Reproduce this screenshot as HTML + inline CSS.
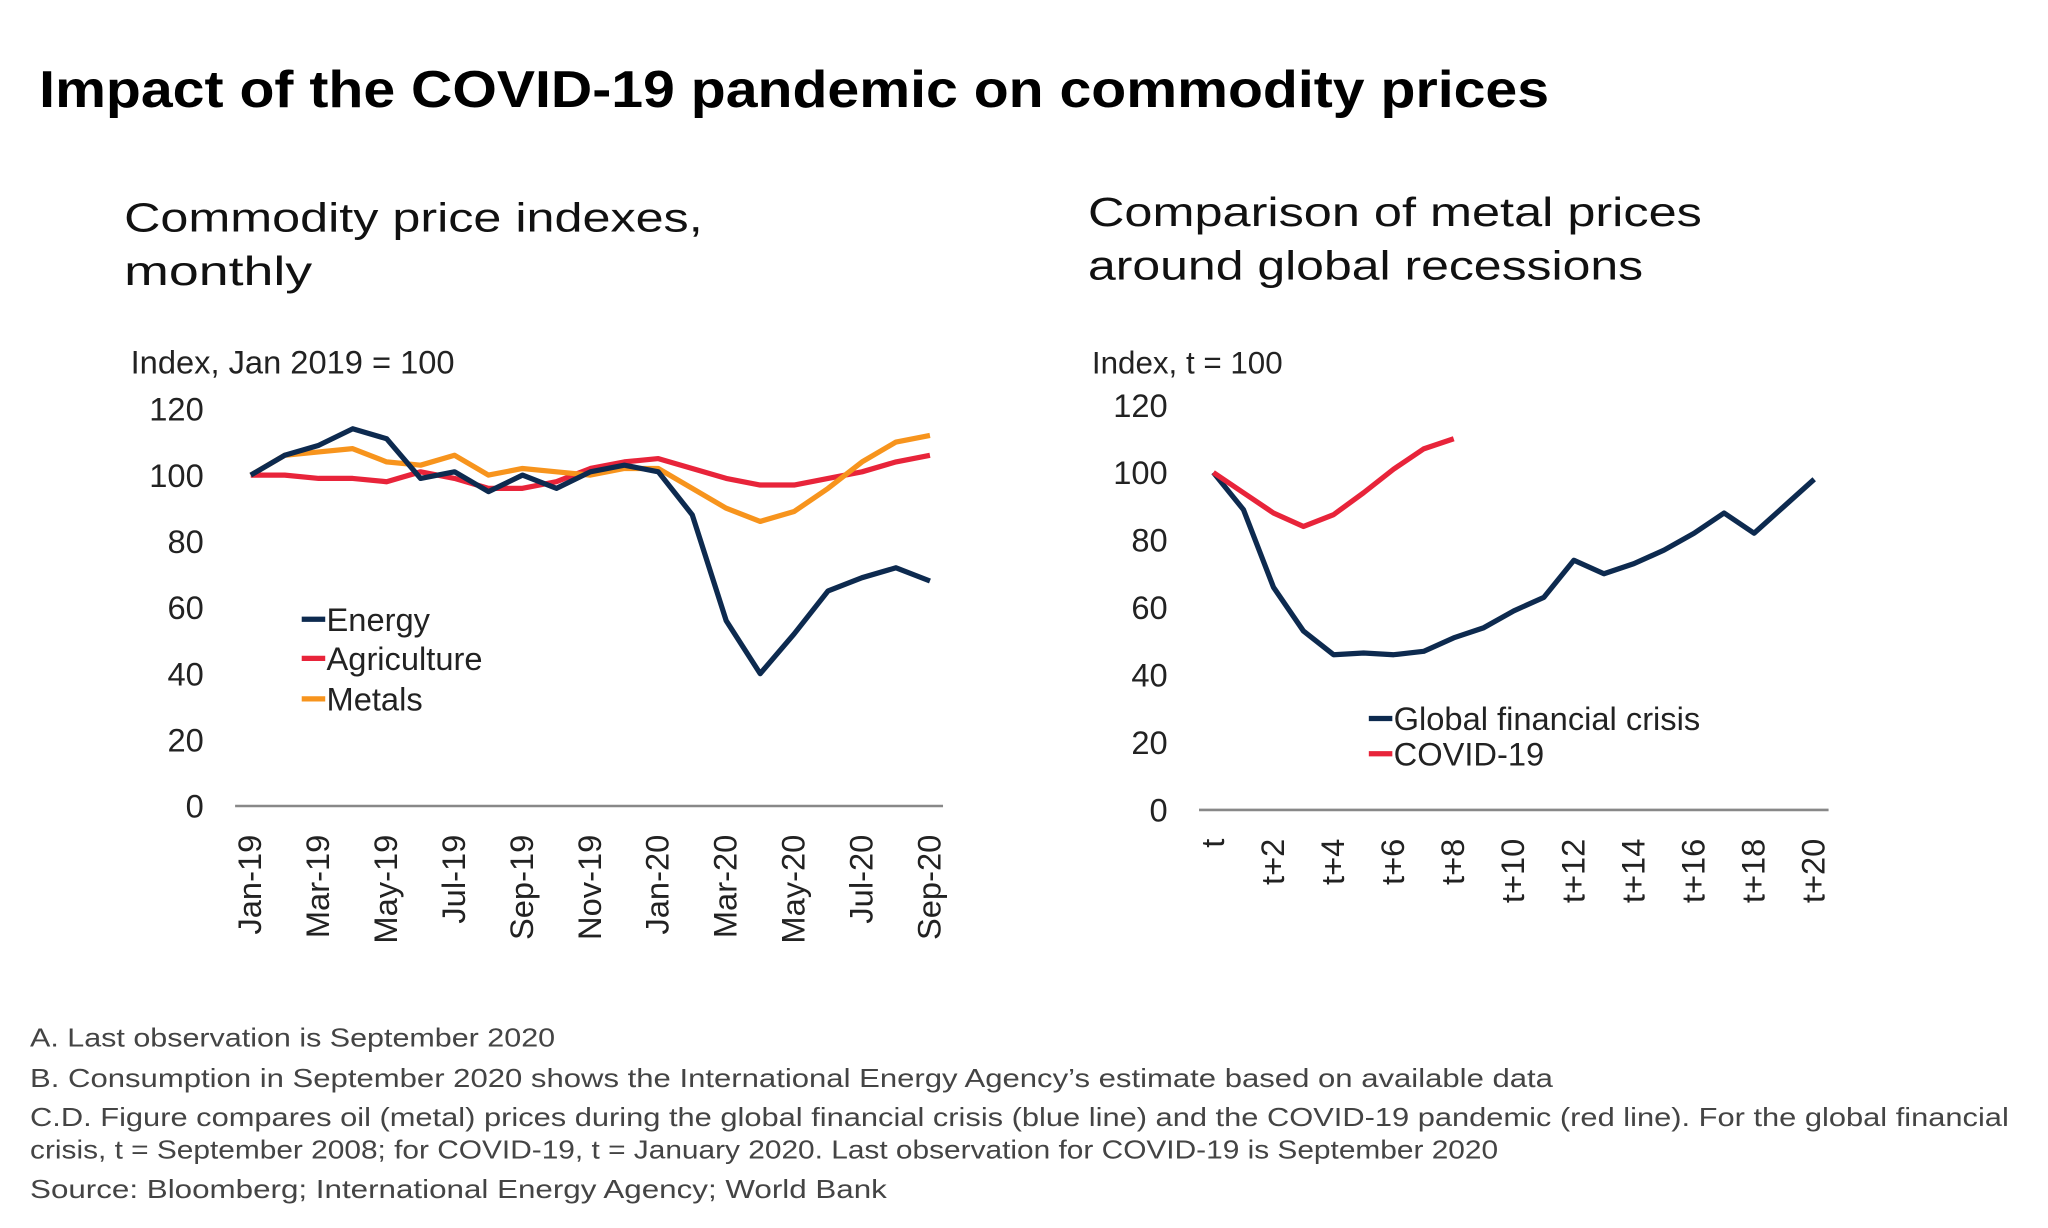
<!DOCTYPE html>
<html><head><meta charset="utf-8"><style>
html,body{margin:0;padding:0;background:#fff;}
svg{display:block;}
text{font-family:"Liberation Sans",Arial,sans-serif;}
</style></head><body>
<svg id="s" width="2048" height="1228" viewBox="0 0 1568 940" xmlns="http://www.w3.org/2000/svg">
<text x="30" y="82" font-size="40" font-weight="bold" fill="#000" textLength="1156" lengthAdjust="spacingAndGlyphs">Impact of the COVID-19 pandemic on commodity prices</text>
<text x="95" y="177" font-size="31" fill="#111" textLength="443" lengthAdjust="spacingAndGlyphs">Commodity price indexes,</text>
<text x="95" y="218" font-size="31" fill="#111" textLength="144" lengthAdjust="spacingAndGlyphs">monthly</text>
<text x="833" y="173" font-size="31" fill="#111" textLength="470" lengthAdjust="spacingAndGlyphs">Comparison of metal prices</text>
<text x="833" y="214" font-size="31" fill="#111" textLength="425" lengthAdjust="spacingAndGlyphs">around global recessions</text>
<text x="100" y="286" font-size="25" fill="#222">Index, Jan 2019 = 100</text>
<text x="836" y="286" font-size="24" fill="#222">Index, t = 100</text>
<g id="left"></g>
<g id="right"></g>
<g font-size="20" fill="#444" lengthAdjust="spacingAndGlyphs">
<text x="23" y="801" textLength="402" lengthAdjust="spacingAndGlyphs">A. Last observation is September 2020</text>
<text x="23" y="832" textLength="1166" lengthAdjust="spacingAndGlyphs">B. Consumption in September 2020 shows the International Energy Agency’s estimate based on available data</text>
<text x="23" y="862" textLength="1515" lengthAdjust="spacingAndGlyphs">C.D. Figure compares oil (metal) prices during the global financial crisis (blue line) and the COVID-19 pandemic (red line). For the global financial</text>
<text x="23" y="887" textLength="1124" lengthAdjust="spacingAndGlyphs">crisis, t = September 2008; for COVID-19, t = January 2020. Last observation for COVID-19 is September 2020</text>
<text x="23" y="917" textLength="656" lengthAdjust="spacingAndGlyphs">Source:  Bloomberg; International Energy Agency; World Bank</text>
</g>
</svg>
<script>
const months = ["Jan-19","Feb-19","Mar-19","Apr-19","May-19","Jun-19","Jul-19","Aug-19","Sep-19","Oct-19","Nov-19","Dec-19","Jan-20","Feb-20","Mar-20","Apr-20","May-20","Jun-20","Jul-20","Aug-20","Sep-20"];
const energy = [100,106,109,114,111,99,101,95,100,96,101,103,101,88,56,40,52,65,69,72,68];
const agriculture = [100,100,99,99,98,101,99,96,96,98,102,104,105,102,99,97,97,99,101,104,106];
const metals = [100,106,107,108,104,103,106,100,102,101,100,102,102,96,90,86,89,96,104,110,112];
const periods = ["t","t+1","t+2","t+3","t+4","t+5","t+6","t+7","t+8","t+9","t+10","t+11","t+12","t+13","t+14","t+15","t+16","t+17","t+18","t+19","t+20"];
const gfc = [100,89,66,53,46,46.5,46,47,51,54,59,63,74,70,73,77,82,88,82,90,98];
const covid = [100,94,88,84,87.5,94,101,107,110];
const yTicks = [0,20,40,60,80,100,120];

const NS="http://www.w3.org/2000/svg";
function mk(p,tag,attrs){const e=document.createElementNS(NS,tag);for(const k in attrs)e.setAttribute(k,attrs[k]);p.appendChild(e);return e;}

function chart(g,cfg){
  const x=i=>cfg.x0+i*cfg.dx;
  const y=v=>cfg.y0-(v/120)*(cfg.y0-cfg.y120);
  yTicks.forEach(t=>{
    const tx=mk(g,'text',{x:cfg.yLabX,y:y(t)+9,'font-size':25,'text-anchor':'end',fill:'#222'});
    tx.textContent=t;
    
    
  });
  const ax=mk(g,'line',{x1:cfg.axL,x2:cfg.axR,y1:y(0),y2:y(0),stroke:'#888','stroke-width':2});
  
  
  cfg.labels.forEach((l,i)=>{
    if(i%2) return;
    const px=x(i)+8, py=y(0)+22;
    const tx=mk(g,'text',{x:px,y:py,'font-size':25,'text-anchor':'end',fill:'#222',transform:`rotate(-90 ${px} ${py})`});
    tx.textContent=l;
    
    
  });
  cfg.series.forEach(s=>{
    const pl=mk(g,'polyline',{points:s.data.map((v,i)=>x(i)+','+y(v)).join(' '),fill:'none',stroke:s.color,'stroke-width':4,'stroke-linejoin':'round'});
    
    
  });
  cfg.legend.forEach(L=>{
    const lg=mk(g,'g',{});
    
    
    mk(lg,'line',{x1:L.x,x2:L.x+18,y1:L.y,y2:L.y,stroke:L.color,'stroke-width':4});
    const t=mk(lg,'text',{x:L.x+19,y:L.y+9,'font-size':25,fill:'#222'});
    t.textContent=L.label;
  });
}
chart(document.getElementById('left'),{x0:192,dx:26,y0:617,y120:313,yLabX:156,axL:180,axR:722,labels:months,
  series:[{key:'agriculture',data:agriculture,color:'#e8243a'},{key:'metals',data:metals,color:'#f7941d'},{key:'energy',data:energy,color:'#0d2a4f'}],
  legend:[{key:'energy',label:'Energy',color:'#0d2a4f',x:231,y:474},{key:'agriculture',label:'Agriculture',color:'#e8243a',x:231,y:504},{key:'metals',label:'Metals',color:'#f7941d',x:231,y:535}]});
chart(document.getElementById('right'),{x0:929,dx:23,y0:620,y120:310,yLabX:894,axL:918,axR:1400,labels:periods,
  series:[{key:'global-financial-crisis',data:gfc,color:'#0d2a4f'},{key:'covid-19',data:covid,color:'#e8243a'}],
  legend:[{key:'global-financial-crisis',label:'Global financial crisis',color:'#0d2a4f',x:1048,y:550},{key:'covid-19',label:'COVID-19',color:'#e8243a',x:1048,y:577}]});
</script>
</body></html>
